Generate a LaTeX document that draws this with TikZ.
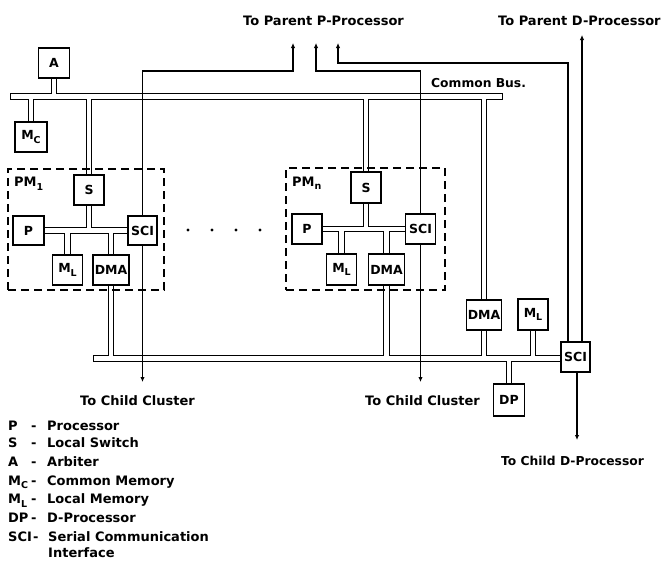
\documentclass[tikz,border=0pt]{standalone}
\usepackage{fontspec}
\setmainfont{DejaVu Sans}
\usetikzlibrary{arrows.meta}
\pgfdeclarelayer{bg}
\pgfsetlayers{bg,main}
\newcommand\lowsub[1]{\raisebox{-0.3em}{\fontsize{9.5}{9.5}\selectfont #1}}
\newcommand\busnet{
 (tbL) -- (tbR)
 (A.south) -- (A.south |- tbL)
 (Mc.north) -- (Mc.north |- tbL)
 (S1.north) -- (S1.north |- tbL)
 (Sn.north) -- (Sn.north |- tbL)
 (DMAr.north) -- (DMAr.north |- tbL)
 (P1.east) -- (SCI1.west)
 (S1.south) -- (S1.south |- P1.east)
 (ML1.north) -- (ML1.north |- P1.east)
 (DMA1.north) -- (DMA1.north |- P1.east)
 (Pn.east) -- (SCIn.west)
 (Sn.south) -- (Sn.south |- Pn.east)
 (MLn.north) -- (MLn.north |- Pn.east)
 (DMAn.north) -- (DMAn.north |- Pn.east)
 (bbL) -- (SCIr.west |- bbL)
 (DMA1.south) -- (DMA1.south |- bbL)
 (DMAn.south) -- (DMAn.south |- bbL)
 (DMAr.south) -- (DMAr.south |- bbL)
 (MLr.south) -- (MLr.south |- bbL)
 (DP.north) -- (DP.north |- bbL)
}
\begin{document}
\begin{tikzpicture}[x=1pt,y=-1pt,
  box/.style={draw, line width=1.2pt, fill=white, inner sep=0pt,
    minimum width=30pt, minimum height=30pt,
    font=\bfseries\fontsize{12.5}{13}\selectfont},
  pmbox/.style={draw, line width=1.1pt, dash pattern=on 8pt off 5pt, inner sep=0pt},
  busout/.style={line width=6.8pt, line cap=rect},
  busin/.style={draw=white, line width=4.4pt, line cap=rect},
  sig/.style={line width=1.2pt},
  arr/.style={sig, -{Latex[length=5pt,width=4.5pt]}},
  lab/.style={anchor=base west, inner sep=0pt, font=\bfseries\fontsize{13}{13}\selectfont},
  labs/.style={lab, font=\bfseries\fontsize{12.3}{13}\selectfont}
]
\useasboundingbox (0,0) rectangle (663,560);

% processing modules (dashed)
\node[pmbox, minimum width=156pt, minimum height=121pt] (PM1) at (86,229.5) {};
\node[pmbox, minimum width=159pt, minimum height=122pt] (PMn) at (365.5,229) {};

% boxes
\node[box,minimum width=31pt] (A) at (54,63) {A};
\node[box,minimum width=32pt] (Mc) at (31,137) {M\lowsub{C}};
\node[box] (S1) at (89,190) {S};
\node[box,minimum width=31pt,minimum height=29pt] (P1) at (28.5,230.5) {P};
\node[box] (ML1) at (67.5,270) {M\lowsub{L}};
\node[box,minimum width=36pt] (DMA1) at (111,270) {DMA};
\node[box,minimum width=29pt,minimum height=29pt] (SCI1) at (142.5,230.5) {SCI};
\node[box,minimum height=31pt] (Sn) at (366,187.5) {S};
\node[box] (Pn) at (307,229) {P};
\node[box,minimum height=31pt] (MLn) at (341.5,269.5) {M\lowsub{L}};
\node[box,minimum width=36pt,minimum height=31pt] (DMAn) at (386.5,269.5) {DMA};
\node[box] (SCIn) at (420.5,229) {SCI};
\node[box,minimum width=35pt] (DMAr) at (484,315) {DMA};
\node[box,minimum height=31pt] (MLr) at (533,314.5) {M\lowsub{L}};
\node[box,minimum width=29pt] (SCIr) at (575.5,357) {SCI};
\node[box,minimum width=31pt,minimum height=32pt] (DP) at (509,400) {DP};

% bus end points and connector ends
\coordinate (tbL) at (13,96.5);
\coordinate (tbR) at (500,96.5);
\coordinate (bbL) at (96,358.5);
\coordinate (c1) at (293,71);  \coordinate (t1) at (293,43);
\coordinate (c2) at (316,71);  \coordinate (t2) at (316,43);
\coordinate (c3) at (338,63);  \coordinate (t3) at (338,43);
\coordinate (t4) at (582,35);
\coordinate (d1) at (142.5,382);
\coordinate (d2) at (420.5,382);
\coordinate (d3) at (577,440);

\begin{pgfonlayer}{bg}
  \draw[busout] \busnet;
  \draw[busin] \busnet;
  \draw[arr] (SCI1.north) |- (c1) -- (t1);
  \draw[arr] (SCI1.south) -- (d1);
  \draw[arr] (SCIn.north) |- (c2) -- (t2);
  \draw[arr] (SCIn.south) -- (d2);
  \draw[arr] ([xshift=-7.5pt]SCIr.north) |- (c3) -- (t3);
  \draw[arr] ([xshift=6.5pt]SCIr.north) -- (t4);
  \draw[arr] ([xshift=1.5pt]SCIr.south) -- (d3);
\end{pgfonlayer}

% dots between modules
\foreach \x in {188,212,236,260} \fill (\x,230) circle (1.6pt);

% labels
\node[lab] (lpp) at (243,25) {To Parent P-Processor};
\node[lab] (lpd) at (498,25) {To Parent D-Processor};
\node[labs] (lcb) at (431,87) {Common Bus.};
\node[lab] (lpm1) at (14,186.5) {PM\lowsub{1}};
\node[lab] (lpmn) at (292,186) {PM\lowsub{n}};
\node[lab] (lcc1) at (80,405) {To Child Cluster};
\node[lab] (lcc2) at (365,405) {To Child Cluster};
\node[labs] (lcd) at (501,465.5) {To Child D-Processor};

% legend
\node[lab] (k1) at (8,430) {P};   \node[lab] (h1) at (31,430) {-};   \node[lab] (e1) at (47,430) {Processor};
\node[lab] (k2) at (8,447.5) {S}; \node[lab] (h2) at (31,447.5) {-}; \node[lab] (e2) at (47,447.5) {Local Switch};
\node[lab] (k3) at (8,466.5) {A}; \node[lab] (h3) at (31,466.5) {-}; \node[lab] (e3) at (47,466.5) {Arbiter};
\node[lab] (k4) at (8,485) {M\lowsub{C}}; \node[lab] (h4) at (31,485) {-}; \node[lab] (e4) at (47,485) {Common Memory};
\node[lab] (k5) at (8,503.5) {M\lowsub{L}}; \node[lab] (h5) at (31,503.5) {-}; \node[lab] (e5) at (47,503.5) {Local Memory};
\node[lab] (k6) at (8,522.5) {DP}; \node[lab] (h6) at (31,522.5) {-}; \node[lab] (e6) at (47,522.5) {D-Processor};
\node[lab] (k7) at (8,541) {SCI}; \node[lab] (h7) at (33,541) {-}; \node[lab] (e7) at (48,541) {Serial Communication};
\node[lab] (e8) at (48,557) {Interface};
\end{tikzpicture}
\end{document}
